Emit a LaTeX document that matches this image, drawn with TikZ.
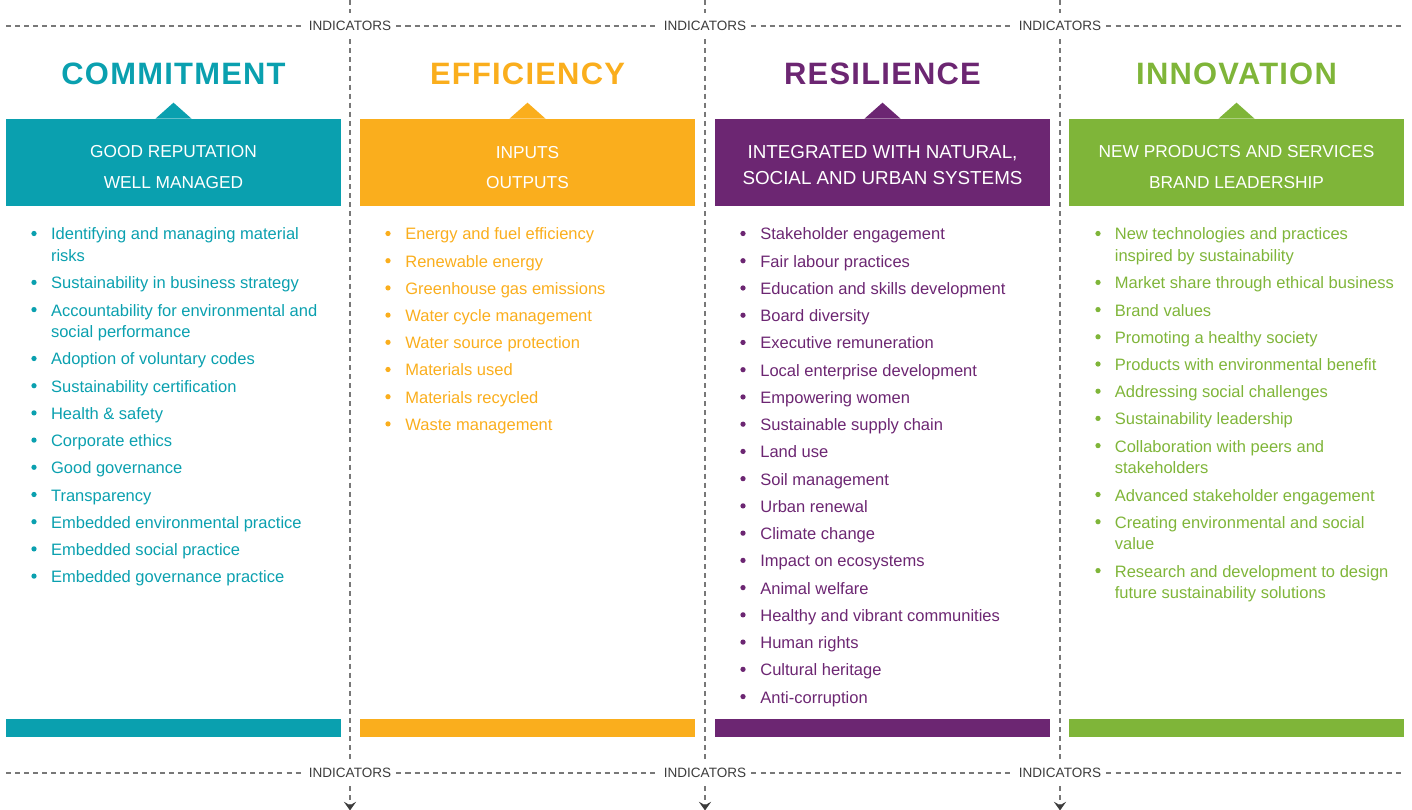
\documentclass[tikz,border=0pt]{standalone}
\usepackage{fontspec}
\setmainfont{Liberation Sans}
\newfontfamily\headfont[LetterSpace=4]{Liberation Sans}
\usetikzlibrary{arrows.meta}

\definecolor{commit}{RGB}{10,160,175}
\definecolor{effic}{RGB}{250,174,29}
\definecolor{resil}{RGB}{108,38,114}
\definecolor{innov}{RGB}{127,181,57}
\definecolor{guide}{RGB}{120,120,120}
\definecolor{indtext}{RGB}{60,60,60}

\begin{document}
\begin{tikzpicture}[x=0.02cm, y=-0.02cm,
    % Styles
    heading/.style={font=\headfont\bfseries\fontsize{17.6}{20}\selectfont, anchor=base, inner sep=0pt},
    box/.style={rectangle, minimum width=6.7cm, minimum height=1.74cm, inner sep=0pt},
    boxtext/.style={align=center, text=white, inner sep=0pt, font=\fontsize{9.85}{17.4}\selectfont},
    bigboxtext/.style={boxtext, font=\fontsize{10.7}{14.8}\selectfont},
    bar/.style={rectangle, minimum width=6.7cm, minimum height=0.36cm, inner sep=0pt},
    entry/.style={anchor=base west, align=left, inner sep=0pt, font=\fontsize{9.4}{12.35}\selectfont},
    ind/.style={fill=white, text=indtext, inner xsep=0.1cm, inner ysep=0pt, minimum height=0.52cm, font=\fontsize{7.7}{9}\selectfont},
    guideline/.style={guide, line width=0.8pt, dash pattern=on 2.85pt off 2.3pt},
    arrow/.style={-{Stealth[length=5pt, width=7pt, inset=2pt, color=indtext]}, guideline},
]
\useasboundingbox (0,0) rectangle (1412,810);

% === INDICATOR GUIDES ===
\coordinate (topleft) at (6,26);
\coordinate (topright) at (1404,26);
\coordinate (botleft) at (6,773);
\coordinate (botright) at (1404,773);
\foreach \x [count=\i] in {350,705,1060} {
  \node[ind] (indtop\i) at (\x,26) {INDICATORS};
  \node[ind] (indbot\i) at (\x,773) {INDICATORS};
  \coordinate (vtop\i) at (\x,0);
  \coordinate (vend\i) at (\x,810.5);
}
\draw[guideline] (topleft) -- (indtop1.west) (indtop1.east) -- (indtop2.west)
  (indtop2.east) -- (indtop3.west) (indtop3.east) -- (topright);
\draw[guideline] (botleft) -- (indbot1.west) (indbot1.east) -- (indbot2.west)
  (indbot2.east) -- (indbot3.west) (indbot3.east) -- (botright);
\foreach \i in {1,2,3} {
  \draw[guideline] (vtop\i) -- (indtop\i.north);
  \draw[guideline] (indtop\i.south) -- (indbot\i.north);
  \draw[arrow] (indbot\i.south) -- (vend\i);
}

% === COMMITMENT ===
% entries: first baseline / extra lines / text
\node[heading, text=commit] (commit) at (173.5,85) {COMMITMENT};
\node[box, fill=commit] (hdr1) at (173.5,162.5) {};
\fill[commit] (hdr1.north) ++(-18,0) -- ++(18,-16) -- ++(18,16) -- cycle;
\node[boxtext] (hdrtext1) at (173.5,167) {GOOD REPUTATION\\WELL MANAGED};
\foreach \y/\n/\t [count=\i] in {240/1/{Identifying and managing material\\risks},
    288.9/0/{Sustainability in business strategy},
    316.1/1/{Accountability for environmental and\\social performance},
    365/0/{Adoption of voluntary codes}, 392.2/0/{Sustainability certification},
    419.4/0/{Health \& safety}, 446.6/0/{Corporate ethics}, 473.8/0/{Good governance},
    501/0/{Transparency}, 528.2/0/{Embedded environmental practice},
    555.4/0/{Embedded social practice}, 582.6/0/{Embedded governance practice}} {
  \node[entry, text=commit] (com\i) at (50.7,{\y+21.7*\n}) {\t};
  \fill[commit] (34,{\y-6.5}) circle (1.5pt);
}
\node[bar, fill=commit] (bar1) at (173.5,728) {};

% === EFFICIENCY ===
\node[heading, text=effic] (effic) at (527.5,85) {EFFICIENCY};
\node[box, fill=effic] (hdr2) at (527.5,162.5) {};
\fill[effic] (hdr2.north) ++(-18,0) -- ++(18,-16) -- ++(18,16) -- cycle;
\node[boxtext] (hdrtext2) at (527.5,167.5) {INPUTS\\OUTPUTS};
\foreach \t [count=\i] in {Energy and fuel efficiency, Renewable energy,
    Greenhouse gas emissions, Water cycle management, Water source protection,
    Materials used, Materials recycled, Waste management} {
  \pgfmathsetmacro\y{240+27.2*(\i-1)}
  \node[entry, text=effic] (eff\i) at (405,\y) {\t};
  \fill[effic] (388,{\y-6.5}) circle (1.5pt);
}
\node[bar, fill=effic] (bar2) at (527.5,728) {};

% === RESILIENCE ===
\node[heading, text=resil] (resil) at (882.5,85) {RESILIENCE};
\node[box, fill=resil] (hdr3) at (882.5,162.5) {};
\fill[resil] (hdr3.north) ++(-18,0) -- ++(18,-16) -- ++(18,16) -- cycle;
\node[bigboxtext] (hdrtext3) at (882.5,165) {INTEGRATED WITH NATURAL,\\SOCIAL AND URBAN SYSTEMS};
\foreach \t [count=\i] in {Stakeholder engagement, Fair labour practices,
    Education and skills development, Board diversity, Executive remuneration,
    Local enterprise development, Empowering women, Sustainable supply chain,
    Land use, Soil management, Urban renewal, Climate change,
    Impact on ecosystems, Animal welfare, Healthy and vibrant communities,
    Human rights, Cultural heritage, Anti-corruption} {
  \pgfmathsetmacro\y{240+27.24*(\i-1)}
  \node[entry, text=resil] (res\i) at (760,\y) {\t};
  \fill[resil] (743,{\y-6.5}) circle (1.5pt);
}
\node[bar, fill=resil] (bar3) at (882.5,728) {};

% === INNOVATION ===
\node[heading, text=innov] (innov) at (1236.5,85) {INNOVATION};
\node[box, fill=innov] (hdr4) at (1236.5,162.5) {};
\fill[innov] (hdr4.north) ++(-18,0) -- ++(18,-16) -- ++(18,16) -- cycle;
\node[boxtext] (hdrtext4) at (1236.5,167) {NEW PRODUCTS AND SERVICES\\BRAND LEADERSHIP};
\foreach \y/\n/\t [count=\i] in {240/1/{New technologies and practices\\inspired by sustainability},
    288.9/0/{Market share through ethical business}, 316.1/0/{Brand values},
    343.3/0/{Promoting a healthy society}, 370.5/0/{Products with environmental benefit},
    397.7/0/{Addressing social challenges}, 424.9/0/{Sustainability leadership},
    452.1/1/{Collaboration with peers and\\stakeholders},
    501/0/{Advanced stakeholder engagement},
    528.2/1/{Creating environmental and social\\value},
    577.1/1/{Research and development to design\\future sustainability solutions}} {
  \node[entry, text=innov] (inn\i) at (1114.5,{\y+21.7*\n}) {\t};
  \fill[innov] (1098,{\y-6.5}) circle (1.5pt);
}
\node[bar, fill=innov] (bar4) at (1236.5,728) {};

\end{tikzpicture}
\end{document}
